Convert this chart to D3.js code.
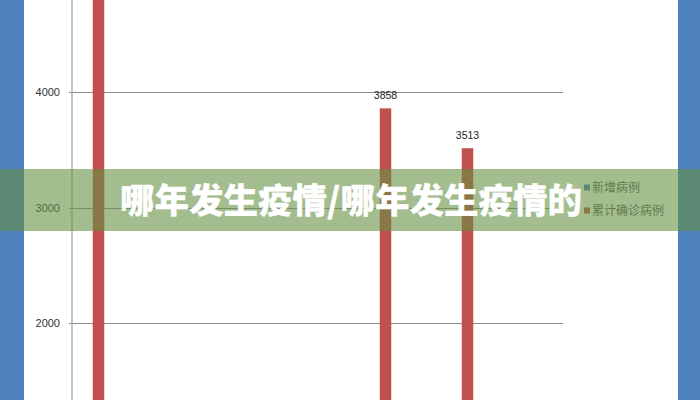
<!DOCTYPE html>
<html><head><meta charset="utf-8">
<script src="https://cdn.jsdelivr.net/npm/d3@7/dist/d3.min.js"></script>
<style>html,body{margin:0;padding:0;background:#fff;}svg{display:block;}</style>
</head><body>
<svg id="c" width="700" height="400"></svg>
<script>
// Data
const days = [1, 8, 10];               // category positions (periods)
const cumulative = [5600, 3858, 3513]; // 累计确诊病例
const labelShown = [false, true, true];
const yTicks = [2000, 3000, 4000];
const legendNames = ["新增病例", "累计确诊病例"];
const legendColors = ["#4f81bd", "#c0504d"];
const title = "哪年发生疫情/哪年发生疫情的";

const svg = d3.select("#c");
const W = 700, H = 400;

// edge bands
svg.append("rect").attr("x",0).attr("y",0).attr("width",24).attr("height",H).attr("fill","#4f81bd");
svg.append("rect").attr("x",678).attr("y",0).attr("width",22).attr("height",H).attr("fill","#4f81bd");

const x = d3.scaleLinear().domain([1,10]).range([98.5,467.5]);
const y = d3.scaleLinear().domain([0,5000]).range([554,-23.5]);
const plotL = 72, plotR = 563;

// gridlines via axis
const yAxis = d3.axisLeft(y).tickValues(yTicks).tickSize(-(plotR-plotL)-3).tickPadding(9).tickFormat(d3.format("d"));
const gy = svg.append("g").attr("transform",`translate(${plotL-3},0)`).call(yAxis);
gy.select(".domain").remove();
gy.selectAll(".tick line").attr("stroke","#8c8c8c").attr("stroke-width",1).attr("shape-rendering","crispEdges");
gy.selectAll(".tick text").attr("fill","#333").style("font-family","'Liberation Sans', Arial, sans-serif").style("font-size","11px");

// vertical axis line
svg.append("line").attr("x1",plotL).attr("x2",plotL).attr("y1",0).attr("y2",H)
  .attr("stroke","#a6a6a6").attr("stroke-width",1.3);

// bars
const bw = 11.5;
svg.selectAll("rect.bar").data(cumulative).join("rect").attr("class","bar")
  .attr("x",(d,i)=>x(days[i])-bw/2).attr("width",bw)
  .attr("y",d=>y(d)).attr("height",d=>y(0)-y(d))
  .attr("fill","#c0504d");

svg.selectAll("text.lbl").data(cumulative.map((v,i)=>({v,i})).filter(d=>labelShown[d.i]))
  .join("text").attr("class","lbl")
  .attr("x",d=>x(days[d.i])).attr("y",d=>y(d.v)-9)
  .attr("text-anchor","middle").attr("fill","#222")
  .style("font-family","'Liberation Sans', Arial, sans-serif").style("font-size","10.5px")
  .text(d=>d.v);

// legend
const lg = svg.append("g").attr("transform","translate(584,188)");
legendNames.forEach((n,i)=>{
  lg.append("rect").attr("x",0).attr("y",i*23-3.5).attr("width",6).attr("height",6).attr("fill",legendColors[i]);
  lg.append("text").attr("x",8).attr("y",i*23).attr("dy","0.35em").attr("fill","#595959")
    .style("font-family","'Noto Sans CJK SC', sans-serif").style("font-size","12px").text(n);
});

// banner overlay
svg.append("rect").attr("x",0).attr("y",169).attr("width",W).attr("height",62)
  .attr("fill","rgb(102,145,68)").attr("fill-opacity",0.6);
svg.append("text").attr("x",351).attr("y",201).attr("dy","0.36em").attr("text-anchor","middle")
  .attr("fill","#fff").attr("stroke","#fff").attr("stroke-width",0.3)
  .style("font-family","'Noto Sans CJK SC', sans-serif").style("font-weight","900")
  .style("font-size","34.5px").text(title);
</script>
</body></html>
